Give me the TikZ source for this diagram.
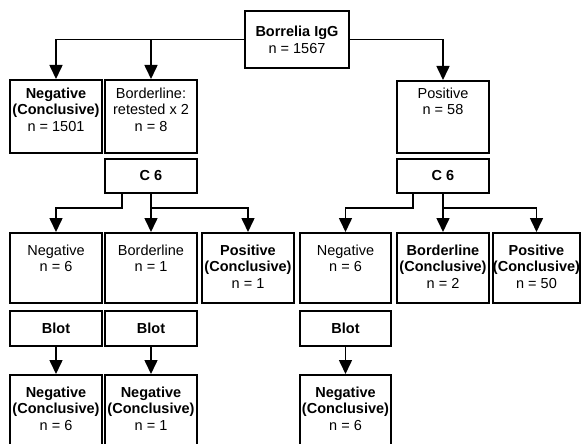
\documentclass[tikz,border=0pt]{standalone}
\usepackage{fontspec}
\setmainfont{Liberation Sans}
\usetikzlibrary{arrows.meta}
\begin{document}
\begin{tikzpicture}[x=1pt,y=-1pt,
  box/.style={draw, line width=2pt, inner sep=0pt, minimum width=92pt},
  txt/.style={inner sep=0pt, align=center, font=\fontsize{14.5}{16.7}\selectfont},
  arr/.style={line width=1.6pt, -{Triangle[length=14pt,width=13pt]}},
  ln/.style={line width=1.6pt}]
\useasboundingbox (0,0) rectangle (581,444);
\clip (0,0) rectangle (581,444);
% top
\node[box, minimum width=104pt, minimum height=57pt] (top) at (297,39.5) {};
\node[txt] (topt) at (top.center) {\textbf{Borrelia IgG}\\n = 1567};
% row 1
\node[box, minimum height=73pt] (neg1) at (56,116.5) {};
\node[box, minimum height=73pt] (bord1) at (151,116.5) {};
\node[box, minimum height=72pt] (pos1) at (443,117) {};
\node[txt, anchor=north] (neg1t) at ([yshift=-8.5pt]neg1.north) {\textbf{Negative}\\\textbf{(Conclusive)}\\n = 1501};
\node[txt, anchor=north] (bord1t) at ([yshift=-8.5pt]bord1.north) {Borderline:\\retested x 2\\n = 8};
\node[txt, anchor=north] (pos1t) at ([yshift=-7.5pt]pos1.north) {Positive\\n = 58};
% C6 boxes
\node[box, minimum height=34pt] (c6a) at (151,176) {};
\node[txt] (c6at) at (c6a.center) {\textbf{C 6}};
\node[box, minimum height=34pt] (c6b) at (443,176) {};
\node[txt] (c6bt) at (c6b.center) {\textbf{C 6}};
% row 2
\node[box, minimum height=70pt] (neg2) at (56,268) {};
\node[box, minimum height=70pt] (bord2) at (151,268) {};
\node[box, minimum height=70pt] (pos2) at (248,268) {};
\node[box, minimum height=70pt, minimum width=91pt] (neg3) at (345.5,268) {};
\node[box, minimum height=70pt] (bord3) at (443,268) {};
\node[box, minimum height=70pt, minimum width=87pt] (pos3) at (536.5,268) {};
\node[txt, anchor=north] (neg2t) at ([yshift=-12.5pt]neg2.north) {Negative\\n = 6};
\node[txt, anchor=north] (bord2t) at ([yshift=-12.5pt]bord2.north) {Borderline\\n = 1};
\node[txt, anchor=north] (pos2t) at ([yshift=-12.5pt]pos2.north) {\textbf{Positive}\\\textbf{(Conclusive)}\\n = 1};
\node[txt, anchor=north] (neg3t) at ([yshift=-12.5pt]neg3.north) {Negative\\n = 6};
\node[txt, anchor=north] (bord3t) at ([yshift=-12.5pt]bord3.north) {\textbf{Borderline}\\\textbf{(Conclusive)}\\n = 2};
\node[txt, anchor=north] (pos3t) at ([yshift=-12.5pt]pos3.north) {\textbf{Positive}\\\textbf{(Conclusive)}\\n = 50};
% blot
\node[box, minimum height=35pt] (blota) at (56,328.5) {};
\node[box, minimum height=35pt] (blotb) at (151,328.5) {};
\node[box, minimum height=35pt, minimum width=91pt] (blotc) at (345.5,328.5) {};
\node[txt] (blotat) at (blota.center) {\textbf{Blot}};
\node[txt] (blotbt) at (blotb.center) {\textbf{Blot}};
\node[txt] (blotct) at (blotc.center) {\textbf{Blot}};
% bottom
\node[box, minimum height=80pt] (neg4) at (56,415) {};
\node[box, minimum height=80pt] (neg5) at (151,415) {};
\node[box, minimum height=80pt, minimum width=91pt] (neg6) at (345.5,415) {};
\node[txt, anchor=north] (neg4t) at ([yshift=-12.5pt]neg4.north) {\textbf{Negative}\\\textbf{(Conclusive)}\\n = 6};
\node[txt, anchor=north] (neg5t) at ([yshift=-12.5pt]neg5.north) {\textbf{Negative}\\\textbf{(Conclusive)}\\n = 1};
\node[txt, anchor=north] (neg6t) at ([yshift=-12.5pt]neg6.north) {\textbf{Negative}\\\textbf{(Conclusive)}\\n = 6};
% connectors top
\draw[arr] (top.west) -| (neg1.north);
\draw[arr] (top.west -| bord1.north) -- (bord1.north);
\draw[arr] (top.east) -| (pos1.north);
% C6 left
\coordinate (ja) at (122,208);
\draw[arr] (c6a.south -| ja) -- (ja) -| (neg2.north);
\draw[arr] (c6a.south) -- (bord2.north);
\draw[arr] (c6a.south |- ja) -| (pos2.north);
% C6 right
\coordinate (jb) at (413,208);
\draw[arr] (c6b.south -| jb) -- (jb) -| (neg3.north);
\draw[arr] (c6b.south) -- (bord3.north);
\draw[arr] (c6b.south |- jb) -| (pos3.north);
% blot arrows
\draw[arr] (blota.south) -- (neg4.north);
\draw[arr] (blotb.south) -- (neg5.north);
\draw[arr] (blotc.south) -- (neg6.north);
\end{tikzpicture}
\end{document}
